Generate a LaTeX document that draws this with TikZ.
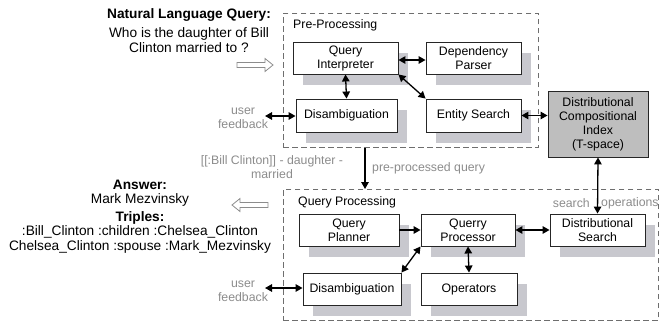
\documentclass[tikz,border=0pt]{standalone}
\usepackage{fontspec}
\setmainfont{Liberation Sans}
\usetikzlibrary{shadows,arrows.meta}
\definecolor{shade}{RGB}{200,200,206}
\definecolor{indexfill}{RGB}{190,190,190}
\definecolor{framegray}{RGB}{110,110,110}
\definecolor{notegray}{RGB}{140,140,140}
\begin{document}
\begin{tikzpicture}[x=1pt,y=-1pt,
  boxfont/.style={font=\fontsize{12.3}{14}\selectfont},
  bigfont/.style={font=\fontsize{13.7}{15}\selectfont},
  stage/.style={draw=black!85, fill=white, line width=0.9pt, minimum height=32, inner sep=1,
    align=center, boxfont,
    drop shadow={shadow xshift=10pt, shadow yshift=-11pt, fill=shade, opacity=1}},
  frame/.style={draw=framegray, dashed, dash pattern=on 5.5pt off 3.5pt, line width=0.8pt,
    anchor=north west, inner sep=0},
  note/.style={text=notegray, boxfont, align=center, inner sep=0},
  outer/.style={bigfont, align=center, inner sep=0},
  link/.style={{Triangle[length=7pt,width=7.5pt]}-{Triangle[length=7pt,width=7.5pt]}, line width=1.3pt},
  flow/.style={-{Triangle[length=7pt,width=7.5pt]}, line width=1.3pt},
  hollow/.style={draw=notegray, fill=white, line width=0.8pt, line join=miter}
]
\useasboundingbox (0,0) rectangle (660,324);

% dashed frames of the two stages
\node[frame, minimum width=255, minimum height=134] (pre) at (283,13) {};
\node[frame, minimum width=375, minimum height=131] (qp) at (283,189) {};
\node[anchor=west, boxfont, inner sep=0] (prelbl) at (293,25) {Pre-Processing};
\node[anchor=west, boxfont, inner sep=0] (qplbl) at (298,202) {Query Processing};

% pre-processing components
\node[stage, minimum width=105] (qi) at (345.5,58) {Query\\Interpreter};
\node[stage, minimum width=95] (dp) at (473.5,58) {Dependency\\Parser};
\node[stage, minimum width=101, minimum height=33] (dis1) at (346.5,115.5) {Disambiguation};
\node[stage, minimum width=95, minimum height=33] (es) at (473.5,115.5) {Entity Search};

% index
\node[draw=black!85, fill=indexfill, line width=0.9pt, minimum width=100, minimum height=66,
  align=center, boxfont, inner sep=1] (dci) at (598,124)
  {Distributional\\Compositional\\Index\\(T-space)};

% query-processing components
\node[stage, minimum width=100] (qpl) at (349,230) {Query\\Planner};
\node[stage, minimum width=94] (qpr) at (468,230) {Querry\\Processor};
\node[stage, minimum width=95] (ds) at (597.5,230) {Distributional\\Search};
\node[stage, minimum width=98] (dis2) at (352,289) {Disambiguation};
\node[stage, minimum width=96] (ops) at (469,289) {Operators};

% connectors inside pre-processing
\draw[link] (qi.east |- 0,60) -- (dp.west |- 0,60);
\draw[link] (qi.south) -- (dis1.north);
\draw[link] (qi.south east) -- (es.north west);
\draw[link] (es.east) -- (dci.west |- es.east);

% user feedback
\coordinate (uf1) at (265,116);
\coordinate (uf2) at (265,288);
\draw[link] (uf1) -- (dis1.west |- uf1);
\draw[link] (uf2) -- (dis2.west |- uf2);
\node[note] (uft) at (243,118) {user\\feedback};
\node[note] (ufb) at (243,291) {user\\feedback};

% hand-over between stages
\coordinate (pq) at (365,0);
\draw[flow] (pre.south -| pq) -- (qp.north -| pq);
\node[note, anchor=west] (pql) at (372,168) {pre-processed query};
\node[note] (ppq) at (272,167.5) {[[:Bill Clinton]] - daughter -\\married};

% connectors inside query processing
\draw[flow] (qpl.east) -- (qpr.west);
\draw[link] (qpr.east) -- (ds.west);
\draw[link] (qpr.south) -- (ops.north);
\draw[link] (dis2.north east) -- (qpr.south west);
\draw[link] (dci.south) -- (ds.north);
\node[note, anchor=east] (so1) at (590,203) {search};
\node[note, anchor=west] (so2) at (601,203) {operations};

% input and output
\node[outer, font=\fontsize{13.7}{15}\selectfont\bfseries] (nlq) at (189,15) {Natural Language Query:};
\node[outer] (nlqt) at (189,40.5) {Who is the daughter of Bill\\Clinton married to ?};
\draw[hollow] (237,62.5) -- (265,62.5) -- (265,58.5) -- (273,65) -- (265,71.5) -- (265,67.5) -- (237,67.5) -- cycle;
\draw[hollow] (268,202.5) -- (240,202.5) -- (240,198.5) -- (232,205) -- (240,211.5) -- (240,207.5) -- (268,207.5) -- cycle;
\node[outer, font=\fontsize{13.7}{15}\selectfont\bfseries] (ans) at (140,185) {Answer:};
\node[outer] (anst) at (140,200) {Mark Mezvinsky};
\node[outer, font=\fontsize{13.7}{15}\selectfont\bfseries] (tri) at (140,218) {Triples:};
\node[outer] (trit) at (140,239.5) {:Bill\_Clinton :children :Chelsea\_Clinton\\Chelsea\_Clinton :spouse :Mark\_Mezvinsky};
\end{tikzpicture}
\end{document}
